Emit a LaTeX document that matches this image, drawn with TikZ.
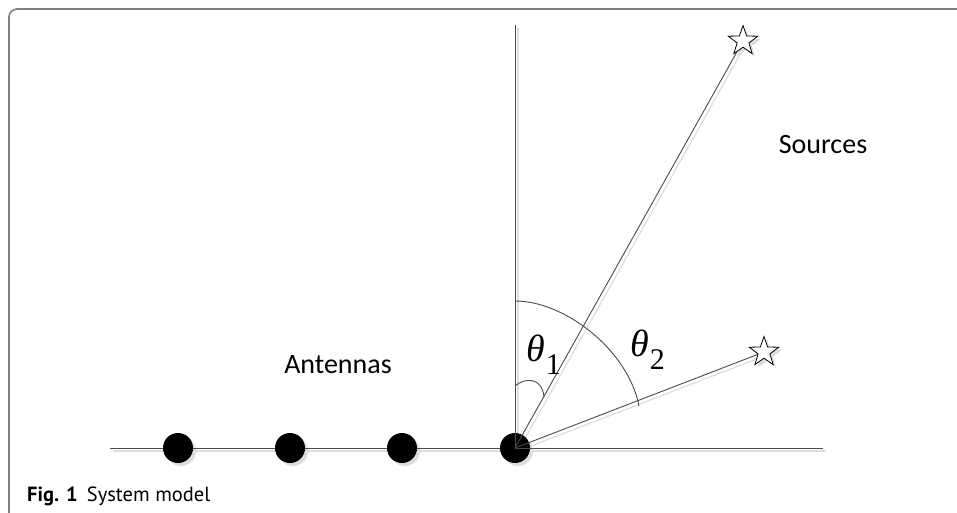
\documentclass[tikz,border=0pt]{standalone}
\usepackage{fontspec}
\setmainfont{Carlito}
\newfontfamily\tnr{Liberation Serif}
\newfontfamily\capfont{PT Sans}
\usetikzlibrary{shapes.geometric}
\definecolor{linegray}{HTML}{4A4A4A}
\definecolor{shadowgray}{HTML}{DDDDDD}
\definecolor{framegray}{HTML}{808080}
\tikzset{
  mainline/.style={draw=linegray, line width=0.9pt},
  shadowline/.style={draw=shadowgray, line width=1.2pt},
  dot/.style={circle, fill=black, minimum size=30pt, inner sep=0pt},
  dotshadow/.style={circle, fill=shadowgray, minimum size=30pt, inner sep=0pt},
  src/.style={star, star points=5, star point ratio=2.5, minimum size=31pt, inner sep=0pt, draw=black, fill=white, line width=0.8pt},
  srcshadow/.style={star, star points=5, star point ratio=2.5, minimum size=31pt, inner sep=0pt, fill=shadowgray},
  lbl/.style={font=\fontsize{28}{34}\selectfont, text=black, inner sep=0pt},
  theta/.style={inner sep=0pt, text=black},
}
\newcommand{\thetalbl}[1]{{\tnr\itshape\fontsize{38}{40}\selectfont θ}\kern1pt\raisebox{-13pt}{\tnr\fontsize{30}{32}\selectfont #1}}
\begin{document}
\begin{tikzpicture}[x=1pt,y=-1pt]
\useasboundingbox (0,0) rectangle (957,513);
% frame
\draw[framegray, line width=1.6pt, rounded corners=8pt] (9,513) -- (9,9) -- (957,9);
% shadows
\coordinate (osh) at (518,451);
\draw[shadowline] (113,451) -- (826,451);
\draw[shadowline] (518,28) -- (518,451);
\draw[shadowline] (osh) -- (746,44);
\draw[shadowline] (osh) -- (767,355);
\node[dotshadow] at (181,451) {};
\node[dotshadow] at (293,451) {};
\node[dotshadow] at (405,451) {};
\node[dotshadow] at (518,451) {};
\node[srcshadow] at (746,44) {};
\node[srcshadow] at (767,355) {};
% main geometry
\coordinate (bl) at (110,448);
\coordinate (br) at (823,448);
\coordinate (vt) at (515,25);
\node[dot] (d1) at (178,448) {};
\node[dot] (d2) at (290,448) {};
\node[dot] (d3) at (402,448) {};
\node[dot] (d4) at (515,448) {};
\node[src] (s1) at (743,41) {};
\node[src] (s2) at (764,352) {};
\draw[mainline] (bl) -- (d1) (d1) -- (d2) (d2) -- (d3) (d3) -- (d4);
\draw[mainline] (d4.center) -- (br);
\draw[mainline] (d4.center) -- (vt);
\draw[mainline] (d4.center) -- (s1);
\draw[mainline] (d4.center) -- (s2);
% angle arcs
\coordinate (a2s) at (515,301);
\coordinate (a2e) at (639,406);
\draw[mainline] (a2s) .. controls (565,301) and (628,350) .. (a2e);
\coordinate (a1s) at (515,386);
\coordinate (a1e) at (544,397);
\draw[mainline] (a1s) .. controls (524,378) and (542,376) .. (a1e);
% labels
\node[theta, anchor=base west] (t1) at (526,361) {\thetalbl{1}};
\node[theta, anchor=base west] (t2) at (630,356) {\thetalbl{2}};
\node[lbl] (srcl) at (823,145) {Sources};
\node[lbl] (antl) at (338,365) {Antennas};
\node[anchor=base west, inner sep=0pt, font=\capfont\fontsize{20.5}{22}\selectfont] (cap) at (27,501) {\textbf{Fig. 1}\hspace{0.45em}System model};
\end{tikzpicture}
\end{document}
